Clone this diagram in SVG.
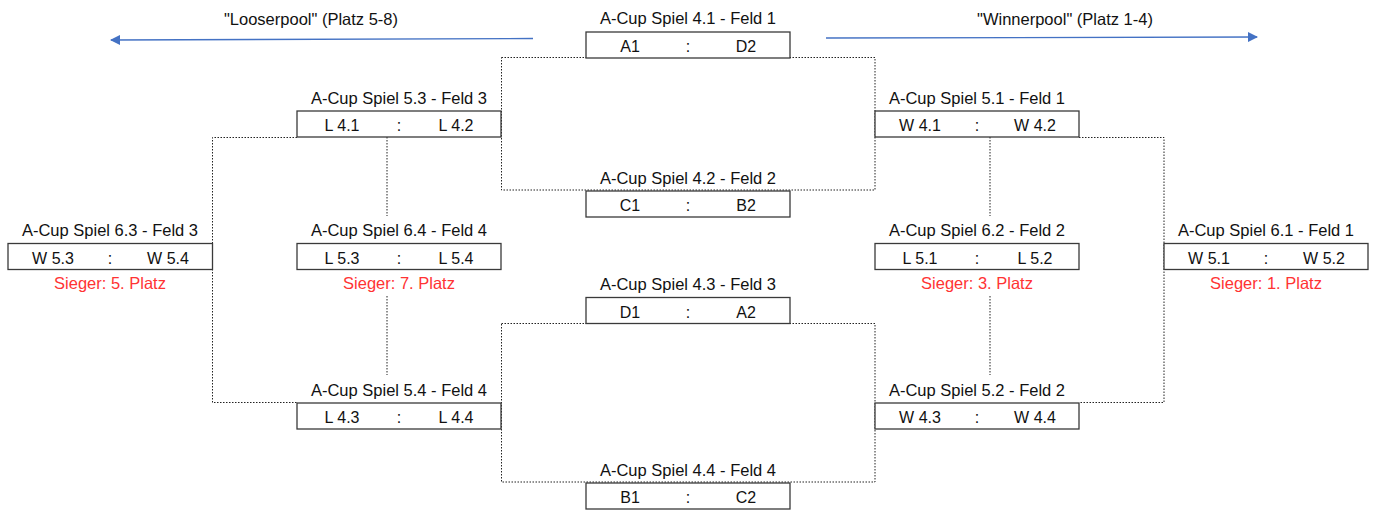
<svg xmlns="http://www.w3.org/2000/svg" width="1378" height="512" viewBox="0 0 1378 512">
<defs>
<style>
text{font-family:"Liberation Sans",Arial,sans-serif;fill:#111;text-anchor:middle}
.t{font-size:16.5px}
.c{font-size:16px}
.w{font-size:16.5px;fill:#ff3333}
.box{fill:#fff;stroke:#3a3a3a;stroke-width:1.3}
.dot{fill:none;stroke:#222;stroke-width:1;stroke-dasharray:1.5 1.5}
.arr{fill:none;stroke:#4472c4;stroke-width:1.3}
</style>
<marker id="ah" viewBox="0 0 10 10" refX="9" refY="5" markerWidth="10" markerHeight="10" markerUnits="userSpaceOnUse" orient="auto">
<path d="M0,0 L10,5 L0,10 Z" fill="#4472c4"/>
</marker>
</defs>
<rect width="1378" height="512" fill="#fff"/>
<g id="connectors">
<rect class="dot" x="501.5" y="57.5" width="373.5" height="132.5"/>
<rect class="dot" x="501.5" y="323.5" width="373.5" height="158.5"/>
<polyline class="dot" points="297,137.5 212.5,137.5 212.5,402.5 297,402.5"/>
<polyline class="dot" points="1079,137.5 1164,137.5 1164,402.5 1079,402.5"/>
<line class="dot" x1="387" y1="137" x2="387" y2="216"/>
<line class="dot" x1="387" y1="296" x2="387" y2="375"/>
<line class="dot" x1="990" y1="137" x2="990" y2="216"/>
<line class="dot" x1="990" y1="296" x2="990" y2="375"/>
<line class="arr" x1="533" y1="38.5" x2="111" y2="40" marker-end="url(#ah)"/>
<line class="arr" x1="826" y1="38" x2="1257" y2="37" marker-end="url(#ah)"/>
</g>
<g id="labels">
<text class="t" x="311" y="25">"Looserpool" (Platz 5-8)</text>
<text class="t" x="1065" y="25">"Winnerpool" (Platz 1-4)</text>
</g>
<g id="g41">
<text class="t" x="688" y="24">A-Cup Spiel 4.1 - Feld 1</text>
<rect class="box" x="586" y="32" width="204" height="26"/>
<text class="c" x="630" y="52">A1</text><text class="c" x="688" y="52">:</text><text class="c" x="746" y="52">D2</text>
</g>
<g id="g42">
<text class="t" x="688" y="184">A-Cup Spiel 4.2 - Feld 2</text>
<rect class="box" x="586" y="191" width="204" height="26"/>
<text class="c" x="630" y="211">C1</text><text class="c" x="688" y="211">:</text><text class="c" x="746" y="211">B2</text>
</g>
<g id="g43">
<text class="t" x="688" y="290">A-Cup Spiel 4.3 - Feld 3</text>
<rect class="box" x="586" y="297.5" width="204" height="26"/>
<text class="c" x="630" y="317.5">D1</text><text class="c" x="688" y="317.5">:</text><text class="c" x="746" y="317.5">A2</text>
</g>
<g id="g44">
<text class="t" x="688" y="476">A-Cup Spiel 4.4 - Feld 4</text>
<rect class="box" x="586" y="483" width="204" height="26"/>
<text class="c" x="630" y="503">B1</text><text class="c" x="688" y="503">:</text><text class="c" x="746" y="503">C2</text>
</g>
<g id="g53">
<text class="t" x="399" y="104">A-Cup Spiel 5.3 - Feld 3</text>
<rect class="box" x="297" y="111" width="204" height="26"/>
<text class="c" x="342" y="131">L 4.1</text><text class="c" x="399" y="131">:</text><text class="c" x="456" y="131">L 4.2</text>
</g>
<g id="g64">
<text class="t" x="399" y="236">A-Cup Spiel 6.4 - Feld 4</text>
<rect class="box" x="297" y="243.5" width="204" height="26"/>
<text class="c" x="342" y="263.5">L 5.3</text><text class="c" x="399" y="263.5">:</text><text class="c" x="456" y="263.5">L 5.4</text>
<text class="w" x="399" y="289">Sieger: 7. Platz</text>
</g>
<g id="g54">
<text class="t" x="399" y="396">A-Cup Spiel 5.4 - Feld 4</text>
<rect class="box" x="297" y="403" width="204" height="26"/>
<text class="c" x="342" y="423">L 4.3</text><text class="c" x="399" y="423">:</text><text class="c" x="456" y="423">L 4.4</text>
</g>
<g id="g63">
<text class="t" x="110" y="236">A-Cup Spiel 6.3 - Feld 3</text>
<rect class="box" x="8" y="243.5" width="204.5" height="26"/>
<text class="c" x="53" y="263.5">W 5.3</text><text class="c" x="110" y="263.5">:</text><text class="c" x="168" y="263.5">W 5.4</text>
<text class="w" x="110" y="289">Sieger: 5. Platz</text>
</g>
<g id="g51">
<text class="t" x="977" y="104">A-Cup Spiel 5.1 - Feld 1</text>
<rect class="box" x="875" y="111" width="204" height="26"/>
<text class="c" x="920" y="131">W 4.1</text><text class="c" x="977" y="131">:</text><text class="c" x="1035" y="131">W 4.2</text>
</g>
<g id="g62">
<text class="t" x="977" y="236">A-Cup Spiel 6.2 - Feld 2</text>
<rect class="box" x="875" y="243.5" width="204" height="26"/>
<text class="c" x="920" y="263.5">L 5.1</text><text class="c" x="977" y="263.5">:</text><text class="c" x="1035" y="263.5">L 5.2</text>
<text class="w" x="977" y="289">Sieger: 3. Platz</text>
</g>
<g id="g52">
<text class="t" x="977" y="396">A-Cup Spiel 5.2 - Feld 2</text>
<rect class="box" x="875" y="403" width="204" height="26"/>
<text class="c" x="920" y="423">W 4.3</text><text class="c" x="977" y="423">:</text><text class="c" x="1035" y="423">W 4.4</text>
</g>
<g id="g61">
<text class="t" x="1266" y="236">A-Cup Spiel 6.1 - Feld 1</text>
<rect class="box" x="1164" y="243.5" width="204" height="26"/>
<text class="c" x="1209" y="263.5">W 5.1</text><text class="c" x="1266" y="263.5">:</text><text class="c" x="1324" y="263.5">W 5.2</text>
<text class="w" x="1266" y="289">Sieger: 1. Platz</text>
</g>
</svg>
